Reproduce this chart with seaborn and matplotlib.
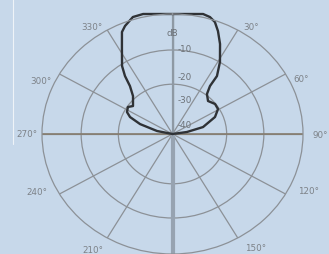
"""Polar radiation pattern of a directional microphone."""

import matplotlib.pyplot as plt
from matplotlib.lines import Line2D
import numpy as np
import pandas as pd
import seaborn as sns

# pattern: compass angle (deg, clockwise from top) and
# radius normalised to the outer ring
pattern_angle = [270, 281.9, 288.4, 293.5, 297.7, 303.4, 307.6, 316.3, 320.8,
                 323.0, 325.7, 331.3, 335.5, 338.0, 342.7, 347.3, 360.0,
                 373.2, 376.4, 379.2, 382.1, 385.9, 391.2, 395.2, 395.7,
                 398.4, 404.7, 412.5, 419.2, 426.5, 436.1, 441.4, 450]
pattern_r = [0.0, 0.121, 0.262, 0.355, 0.394, 0.409, 0.382, 0.438, 0.516,
             0.605, 0.686, 0.807, 0.934, 0.971, 1.021, 1.025, 1.0,
             1.027, 1.016, 0.988, 0.926, 0.834, 0.702, 0.591, 0.492,
             0.425, 0.387, 0.411, 0.406, 0.355, 0.241, 0.112, 0.0]

ring_r = [0.415, 0.70]
spoke_angles = list(range(0, 360, 30))
angle_labels = {30: '30°', 60: '60°', 90: '90°', 120: '120°', 150: '150°',
                210: '210°', 240: '240°', 270: '270°', 300: '300°', 330: '330°'}
level_labels = ['dB', '-10', '-20', '-30', '-40']
level_label_r = [0.85, 0.71, 0.48, 0.29, 0.08]

bg = '#c7d8ea'
grid_col = '#8c9197'

sns.set_theme(style='white')
plt.rcParams['font.family'] = ['DejaVu Sans']

fig = plt.figure(figsize=(3.29, 2.55), dpi=100, facecolor=bg)
ax = fig.add_axes([42 / 329, 0.0, 261 / 329, 240 / 255], projection='polar')
ax.set_aspect('auto')
ax.set_facecolor(bg)
ax.set_theta_zero_location('N')
ax.set_theta_direction(-1)
ax.set_ylim(0, 1)

ax.set_thetagrids(spoke_angles, labels=[''] * len(spoke_angles))
ax.set_rgrids(ring_r, labels=[''] * len(ring_r))
ax.grid(True, color=grid_col, linewidth=0.9)
ax.spines['polar'].set_color(grid_col)
ax.spines['polar'].set_linewidth(0.9)

# horizontal axis line is brownish, vertical one is a heavier slate line
ax.plot(np.radians([90, 90]), [0, 1], color='#857c6e', lw=1.2)
ax.plot(np.radians([270, 270]), [0, 1], color='#857c6e', lw=1.2)
ax.plot([0, 0], [0, 1], color='#8e99a4', lw=1.6)
ax.plot(np.radians([180, 180]), [0, 1.06], color='#97a3b1', lw=3.0,
        clip_on=False)

df = pd.DataFrame({'theta': np.radians(pattern_angle), 'r': pattern_r})
sns.lineplot(data=df, x='theta', y='r', sort=False, estimator=None, ax=ax,
             color='#2f3236', linewidth=1.7, clip_on=False)
ax.set_xlabel('')
ax.set_ylabel('')

# label offsets in points (x, y) next to the end of each spoke
label_offset = {30: (4, 2.5), 60: (5.5, -3.5), 90: (7, 0), 120: (9, 2.5),
                150: (5, -7), 210: (-3, -8.5), 240: (-9, 2), 270: (-3.5, 0.5),
                300: (-5.5, -4.5), 330: (-3.5, 2.5)}
for ang, txt in angle_labels.items():
    dx, dy = label_offset[ang]
    ax.annotate(txt, xy=(np.radians(ang), 1.0), xytext=(dx, dy),
                textcoords='offset points', ha='left' if dx > 0 else 'right',
                va='center', fontsize=6.3, color='#7d8288',
                annotation_clip=False)

for lab, r in zip(level_labels, level_label_r):
    ax.annotate(lab, xy=(0, r), xytext=(-4 if lab == 'dB' else 3.5, 0),
                textcoords='offset points', ha='left', va='center',
                fontsize=6.3, color='#6c7177')

fig.add_artist(Line2D([13 / 329, 13 / 329], [110 / 255, 1.0],
                      color='white', lw=0.8, alpha=0.7))

fig.savefig('out.png', dpi=100, facecolor=bg)
plt.close(fig)
